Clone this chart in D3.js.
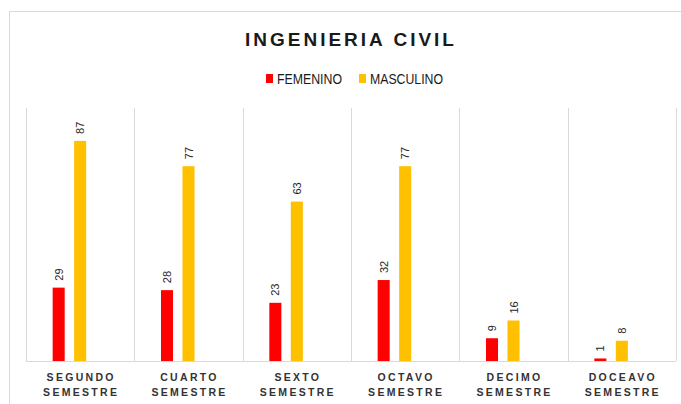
<!DOCTYPE html>
<html lang="es">
<head>
  <meta charset="UTF-8">
  <title>Ingenieria Civil</title>
  <style>
    html, body { margin: 0; padding: 0; background: #fff; }
    svg { display: block; }
  </style>
</head>
<body>
  <div id="chart"></div>
  <script src="https://d3js.org/d3.v7.min.js"></script>
  <script>
    // datos
    const semestres = ["SEGUNDO", "CUARTO", "SEXTO", "OCTAVO", "DECIMO", "DOCEAVO"];
    const femenino = [29, 28, 23, 32, 9, 1];
    const masculino = [87, 77, 63, 77, 16, 8];
    const series = ["FEMENINO", "MASCULINO"];
    const colores = ["#ff0000", "#ffc000"];

    const width = 681,
      height = 404,
      margin = { top: 108, right: 5, bottom: 43, left: 26 };

    const rows = semestres.map((s, i) => ({ sem: s, FEMENINO: femenino[i], MASCULINO: masculino[i] }));

    const svg = d3.select("#chart")
      .append("svg")
      .attr("width", width)
      .attr("height", height)
      .attr("viewBox", [0, 0, width, height]);

    // marco exterior
    svg.append("rect")
      .attr("x", 9.5)
      .attr("y", 11.5)
      .attr("width", 690)
      .attr("height", 420)
      .attr("fill", "none")
      .attr("stroke", "#d9d9d9");

    const x0 = d3.scaleBand()
      .domain(semestres)
      .range([margin.left, width - margin.right]);

    // tercer hueco vacio como en Excel, la serie amarilla queda centrada
    const x1 = d3.scaleBand()
      .domain([...series, ""])
      .range([0, x0.bandwidth()])
      .paddingInner(0.44)
      .paddingOuter(1.24);

    const y = d3.scaleLinear()
      .domain([0, 100])
      .range([height - margin.bottom, margin.top]);

    const color = d3.scaleOrdinal(series, colores);

    // lineas verticales entre categorias
    svg.append("g")
      .attr("stroke", "#d9d9d9")
      .selectAll("line")
      .data(d3.range(semestres.length + 1))
      .join("line")
      .attr("x1", i => Math.round(margin.left + i * x0.step()) + 0.5)
      .attr("x2", i => Math.round(margin.left + i * x0.step()) + 0.5)
      .attr("y1", y(100))
      .attr("y2", y(0));

    svg.append("line")
      .attr("x1", margin.left)
      .attr("x2", width - margin.right)
      .attr("y1", y(0) + 0.5)
      .attr("y2", y(0) + 0.5)
      .attr("stroke", "#d9d9d9");

    const grupo = svg.append("g")
      .selectAll("g")
      .data(rows)
      .join("g")
      .attr("transform", d => `translate(${x0(d.sem)},0)`);

    grupo.selectAll("rect")
      .data(d => series.map(k => ({ key: k, value: d[k] })))
      .join("rect")
      .attr("x", d => x1(d.key))
      .attr("y", d => y(d.value))
      .attr("width", x1.bandwidth())
      .attr("height", d => y(0) - y(d.value))
      .attr("fill", d => color(d.key));

    // etiquetas de valor, giradas
    grupo.selectAll("text")
      .data(d => series.map(k => ({ key: k, value: d[k] })))
      .join("text")
      .attr("transform", d => `translate(${x1(d.key) + x1.bandwidth() / 2 + 4},${y(d.value) - 7}) rotate(-90)`)
      .attr("font-family", "'Liberation Sans', Arial, sans-serif")
      .attr("font-size", 11)
      .attr("fill", "#262626")
      .text(d => d.value);

    // etiquetas del eje x
    const etiquetas = svg.append("g")
      .attr("font-family", "'Liberation Sans', Arial, sans-serif")
      .attr("font-size", 10.5)
      .attr("font-weight", "bold")
      .attr("fill", "#333")
      .attr("text-anchor", "middle")
      .style("letter-spacing", "2.3px")
      .selectAll("text")
      .data(semestres)
      .join("text")
      .attr("transform", d => `translate(${x0(d) + x0.bandwidth() / 2 + 1},0)`);

    etiquetas.append("tspan").attr("x", 0).attr("y", 381).text(d => d);
    etiquetas.append("tspan").attr("x", 0).attr("y", 396).text("SEMESTRE");

    // titulo
    svg.append("text")
      .attr("x", 351)
      .attr("y", 46)
      .attr("text-anchor", "middle")
      .attr("font-family", "'Liberation Sans', Arial, sans-serif")
      .attr("font-size", 19)
      .attr("font-weight", "bold")
      .attr("fill", "#1a1a1a")
      .style("letter-spacing", "3px")
      .text("INGENIERIA CIVIL");

    // leyenda
    const legendX = [266, 359];
    const legendW = [65, 73];
    const leyenda = svg.append("g")
      .selectAll("g")
      .data(series)
      .join("g")
      .attr("transform", (d, i) => `translate(${legendX[i]},72)`);

    leyenda.append("rect")
      .attr("y", 2)
      .attr("width", 7)
      .attr("height", 9)
      .attr("fill", d => color(d));

    leyenda.append("text")
      .attr("x", 11)
      .attr("y", 11.5)
      .attr("font-family", "'Liberation Sans Narrow', 'Liberation Sans', Arial, sans-serif")
      .attr("font-size", 14)
      .attr("fill", "#1a1a1a")
      .attr("textLength", (d, i) => legendW[i])
      .attr("lengthAdjust", "spacingAndGlyphs")
      .text(d => d);
  </script>
</body>
</html>
